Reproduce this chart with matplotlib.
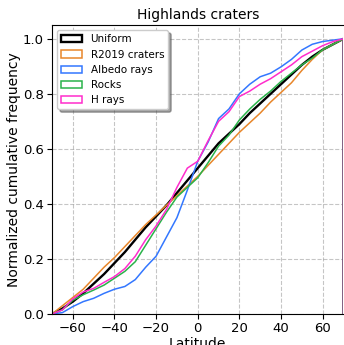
import matplotlib
matplotlib.use("Agg")
import matplotlib.pyplot as plt
from matplotlib.patches import Patch

# latitude knots (deg) and cumulative fractions
lat = [-70, -65, -60, -55, -50, -45, -40, -35, -30, -25, -20, -15, -10, -5,
       0, 5, 10, 15, 20, 25, 30, 35, 40, 45, 50, 55, 60, 65, 70]

uniform = [0, 0.02, 0.045, 0.075, 0.11, 0.145, 0.185, 0.225, 0.27, 0.315,
           0.355, 0.395, 0.44, 0.485, 0.53, 0.575, 0.62, 0.655, 0.69, 0.73,
           0.765, 0.80, 0.835, 0.87, 0.905, 0.935, 0.96, 0.98, 1.0]
r2019 = [0, 0.03, 0.06, 0.09, 0.13, 0.17, 0.205, 0.245, 0.285, 0.325,
         0.36, 0.395, 0.43, 0.465, 0.50, 0.54, 0.58, 0.62, 0.66, 0.695,
         0.73, 0.77, 0.805, 0.84, 0.885, 0.925, 0.96, 0.98, 1.0]
albedo = [0, 0.005, 0.027, 0.045, 0.057, 0.075, 0.09, 0.10, 0.125, 0.17,
          0.21, 0.28, 0.35, 0.45, 0.555, 0.625, 0.71, 0.745, 0.80, 0.835,
          0.862, 0.875, 0.898, 0.925, 0.959, 0.98, 0.99, 0.995, 1.0]
rocks = [0, 0.015, 0.05, 0.07, 0.087, 0.105, 0.13, 0.155, 0.19, 0.25,
         0.31, 0.37, 0.425, 0.46, 0.495, 0.55, 0.61, 0.65, 0.705, 0.745,
         0.78, 0.81, 0.845, 0.875, 0.905, 0.93, 0.96, 0.98, 1.0]
hrays = [0, 0.015, 0.055, 0.08, 0.093, 0.115, 0.136, 0.165, 0.21, 0.27,
         0.32, 0.38, 0.46, 0.53, 0.555, 0.63, 0.70, 0.735, 0.79, 0.81,
         0.835, 0.855, 0.88, 0.905, 0.935, 0.955, 0.975, 0.99, 1.0]

series = [
    ("Uniform", uniform, "black", 1.7),
    ("R2019 craters", r2019, "#e8862a", 1.1),
    ("Albedo rays", albedo, "#3377ff", 1.1),
    ("Rocks", rocks, "#2ab34a", 1.1),
    ("H rays", hrays, "#ff2ccc", 1.1),
]

fig = plt.figure(figsize=(3.44, 3.45), dpi=100)
ax = fig.add_axes([52 / 344, 31 / 345, (343.5 - 52) / 344, (314 - 25) / 345])

handles = []
for name, vals, col, lw in series:
    # step-histogram style outline: closes back down to zero at the right edge
    ax.plot(lat + [lat[-1]], vals + [0], color=col, lw=lw)
    handles.append(Patch(facecolor="none", edgecolor=col, lw=lw, label=name))

ax.set_xlim(-70, 70)
ax.set_ylim(0, 1.05)
ax.set_xticks([-60, -40, -20, 0, 20, 40, 60])
ax.set_yticks([0, 0.2, 0.4, 0.6, 0.8, 1.0])
ax.tick_params(labelsize=9.5, pad=2.5)
ax.grid(True, linestyle="--", color="gray", alpha=0.45, lw=0.8)
ax.spines["right"].set_visible(False)

ax.set_xlabel("Latitude", fontsize=10, labelpad=1)
ax.set_ylabel("Normalized cumulative frequency", fontsize=10, labelpad=1)
ax.set_title("Highlands craters", fontsize=10, pad=4)
ax.legend(handles=handles, loc="upper left", fontsize=7.5, shadow=True)

fig.savefig("out.png", dpi=100)
